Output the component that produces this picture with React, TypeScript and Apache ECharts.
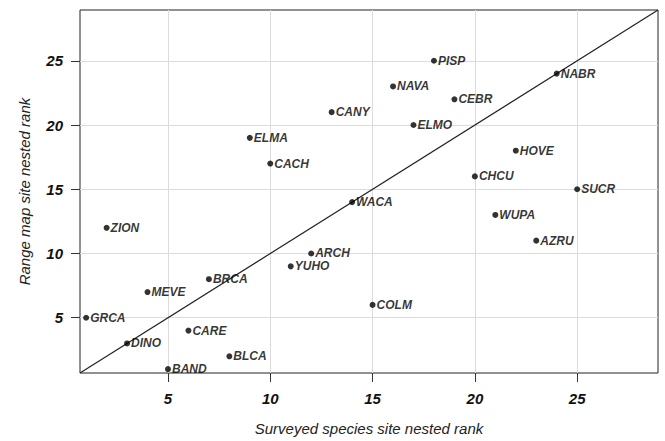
import React, { useEffect, useRef } from "react";
import * as echarts from "echarts";

const sites = ["GRCA","ZION","DINO","MEVE","BAND","CARE","BRCA","BLCA","ELMA","CACH","YUHO","ARCH","CANY","WACA","COLM","NAVA","ELMO","PISP","CEBR","CHCU","WUPA","HOVE","AZRU","NABR","SUCR"];
const surveyedRank = [1,2,3,4,5,6,7,8,9,10,11,12,13,14,15,16,17,18,19,20,21,22,23,24,25];
const rangeMapRank = [5,12,3,7,1,4,8,2,19,17,9,10,21,14,6,23,20,25,22,16,13,18,11,24,15];
const tickValues = [5, 10, 15, 20, 25];
const axisMin = 0.7;
const axisMax = 28.95;
const xTitle = "Surveyed species site nested rank";
const yTitle = "Range map site nested rank";

export default function App() {
  const ref = useRef<HTMLDivElement>(null);
  useEffect(() => {
    if (!ref.current) return;
    const chart = echarts.init(ref.current, null, { renderer: "svg" });
    const font = "'Liberation Sans', Arial, Helvetica, sans-serif";
    const axisCommon = (name: string, isX: boolean) => ({
      type: "value" as const,
      min: axisMin,
      max: axisMax,
      name,
      nameLocation: "middle" as const,
      nameGap: isX ? 48 : 48,
      nameTextStyle: {
        fontFamily: font,
        fontStyle: "italic",
        fontSize: 15,
        color: "#222",
      },
      axisLine: { show: false },
      axisTick: {
        show: true,
        length: 9,
        inside: false,
        customValues: tickValues,
        lineStyle: { color: "#333", width: 1 },
      },
      axisLabel: {
        customValues: tickValues,
        margin: isX ? 18 : 17,
        fontFamily: font,
        fontStyle: "italic",
        fontWeight: "bold",
        fontSize: 15,
        color: "#111",
      },
      splitLine: { show: true, lineStyle: { color: "#dcdcdc", width: 1 } },
    });
    const points = surveyedRank.map((x, i) => [x, rangeMapRank[i], sites[i]]);
    chart.setOption({
      animation: false,
      grid: {
        left: 80,
        right: 7,
        top: 10,
        bottom: 68,
        show: true,
        borderColor: "#222",
        borderWidth: 1,
        backgroundColor: "transparent",
      },
      xAxis: axisCommon(xTitle, true),
      yAxis: axisCommon(yTitle, false),
      series: [
        {
          type: "line",
          data: [[axisMin, axisMin], [axisMax, axisMax]],
          showSymbol: false,
          symbol: "none",
          lineStyle: { color: "#222", width: 1.2 },
          silent: true,
          z: 1,
        },
        {
          type: "scatter",
          data: points,
          symbol: "circle",
          symbolSize: 6,
          itemStyle: { color: "#000" },
          z: 3,
          label: {
            show: true,
            position: "right",
            distance: 1,
            formatter: (p: any) => p.value[2],
            fontFamily: font,
            fontStyle: "italic",
            fontWeight: "bold",
            fontSize: 12,
            color: "#000",
          },
        },
      ],
    });
    return () => chart.dispose();
  }, []);
  return <div ref={ref} style={{ width: 665, height: 441, position: "absolute", left: 0, top: 0 }} />;
}
